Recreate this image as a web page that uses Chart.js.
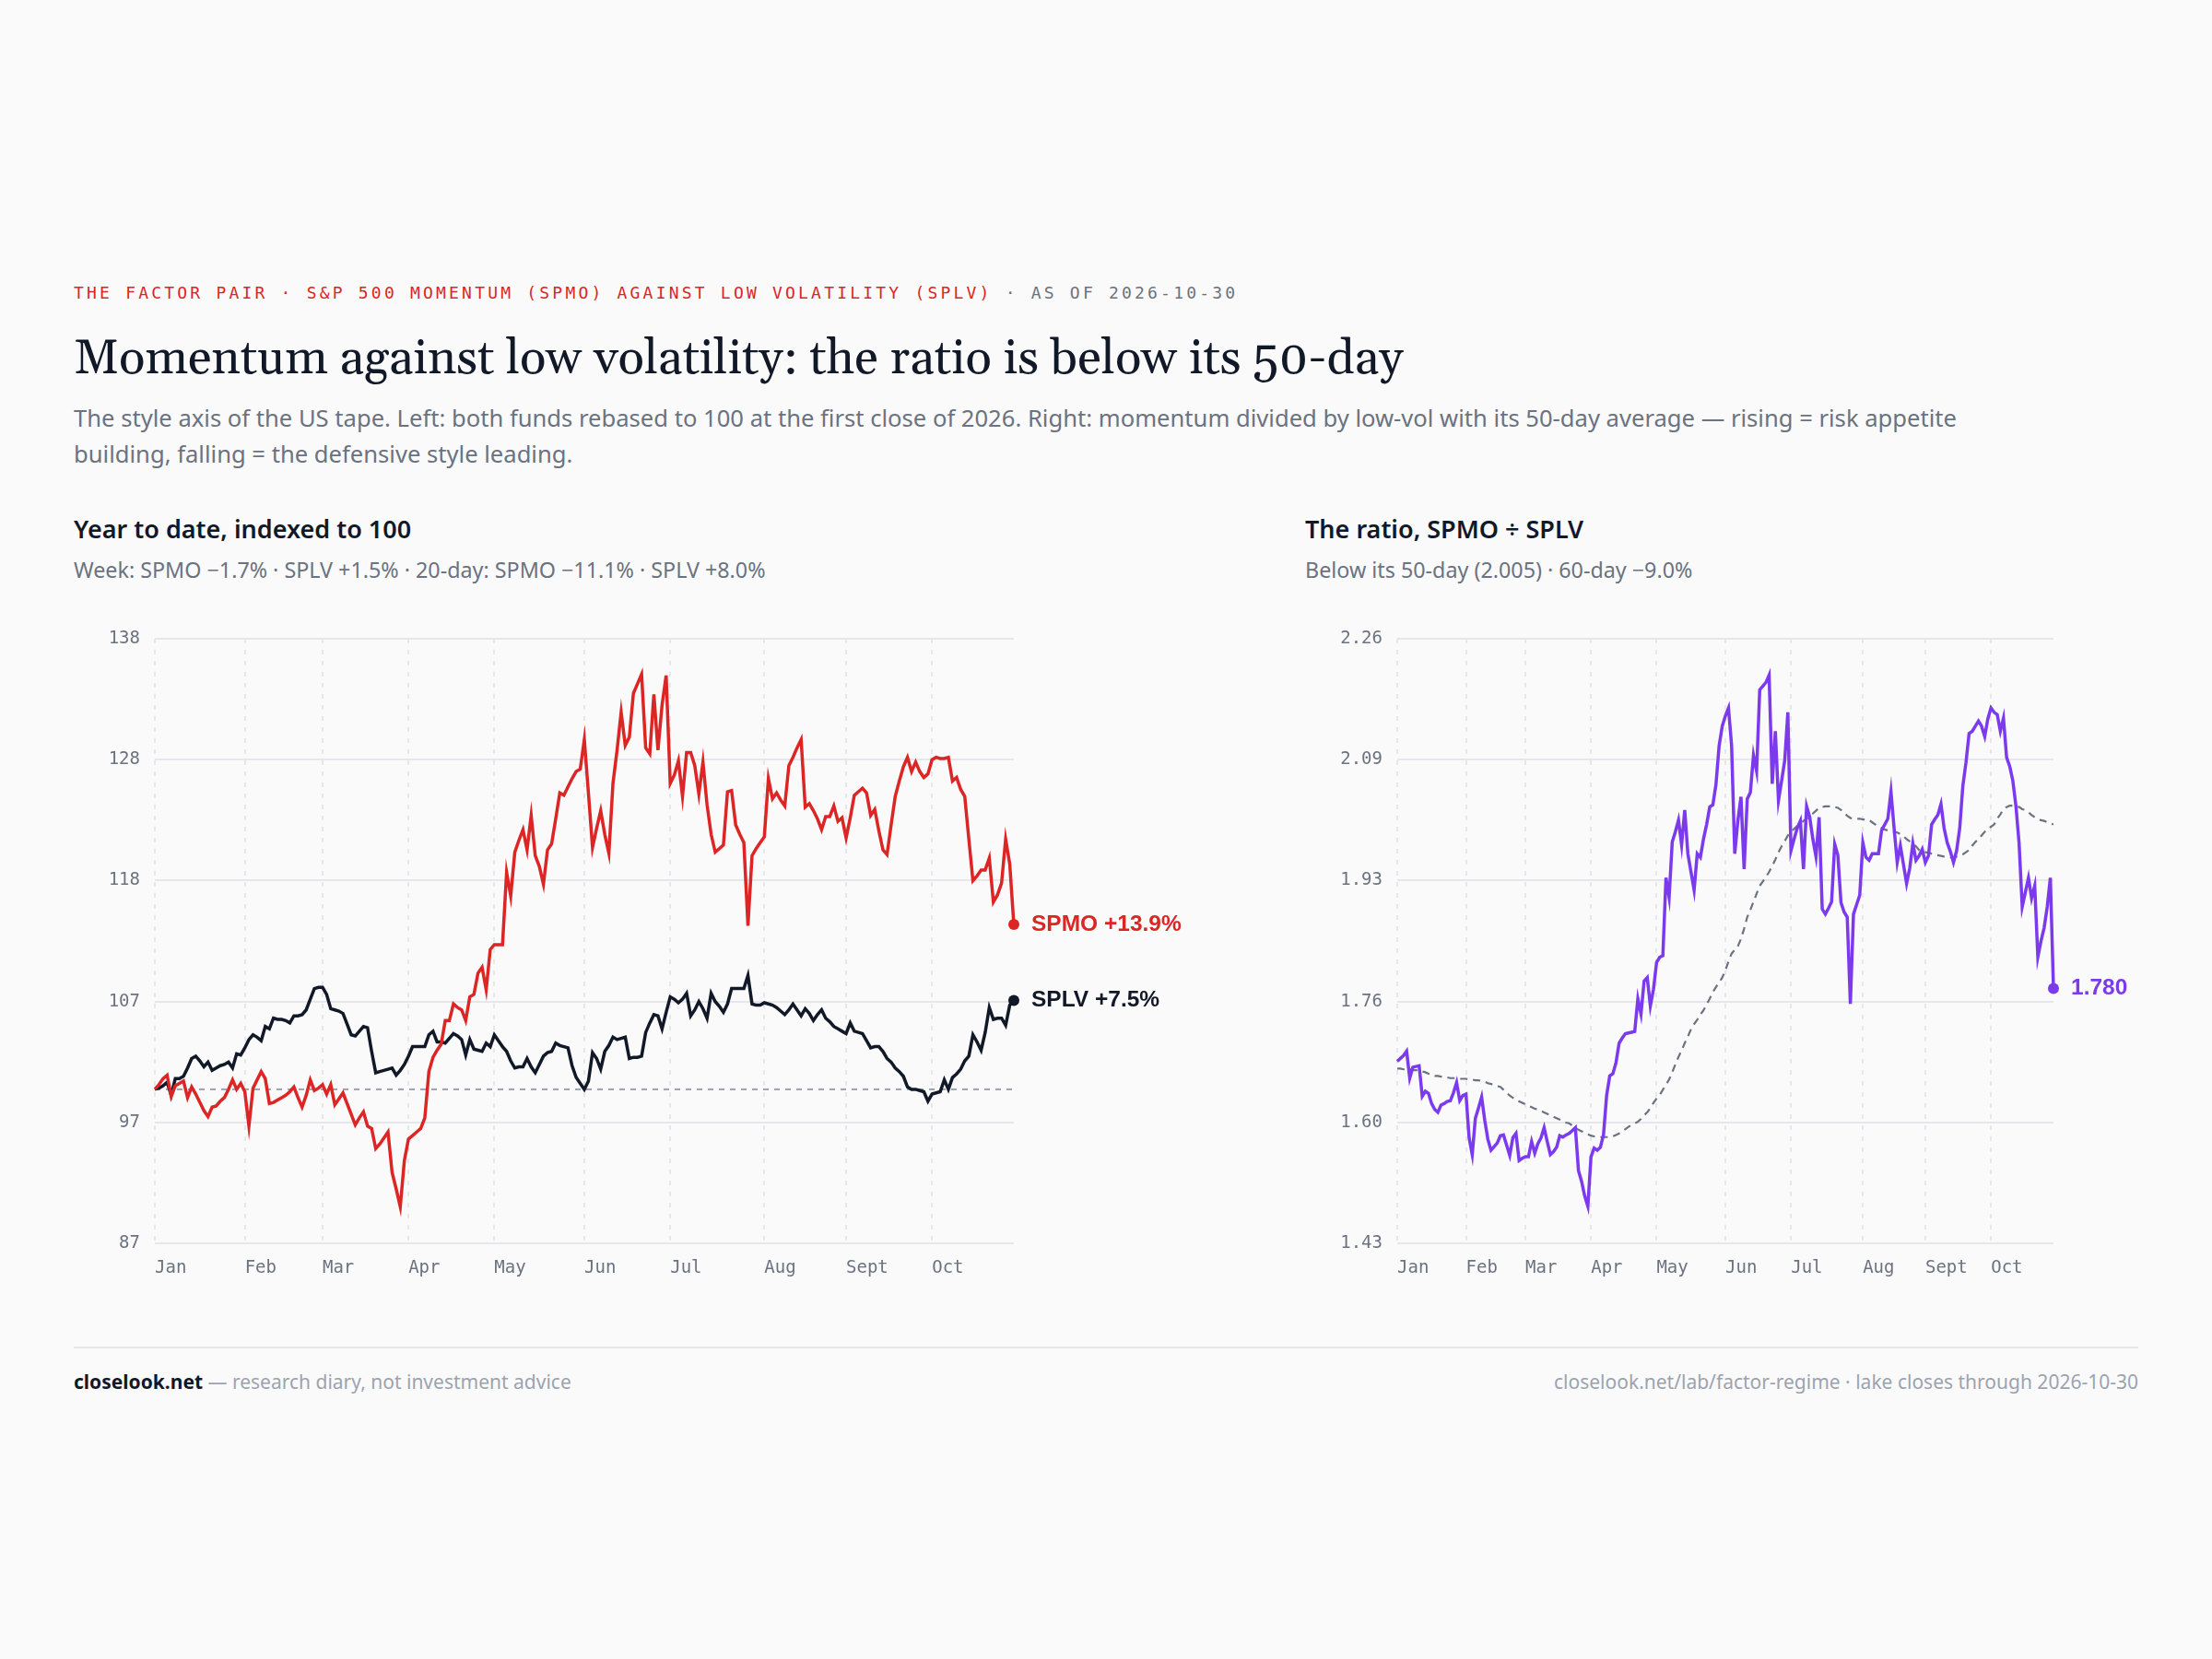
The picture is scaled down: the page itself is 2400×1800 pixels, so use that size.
<!DOCTYPE html>
<html>
<head>
<meta charset="utf-8">
<title>Momentum against low volatility</title>
<script src="https://cdn.jsdelivr.net/npm/chart.js@4.4.1/dist/chart.umd.min.js"></script>
<style>
  html, body { margin: 0; background: #fafafa; }
  body { width: 2400px; height: 1800px; position: relative; font-family: "Noto Sans", "Open Sans", sans-serif; }
  .abs { position: absolute; white-space: nowrap; }
  #kicker { left: 80px; top: 306px; font: 18px/24px "DejaVu Sans Mono", monospace; letter-spacing: 3.2px; color: #dc2626; }
  #kicker span { color: #6b7280; }
  h1 { left: 80px; top: 360px; margin: 0; font: 400 52.8px/60px Georgia, Gelasio, "Liberation Serif", serif; color: #111827; }
  #lede { left: 80px; top: 434px; width: 2110px; margin: 0; font-size: 25.6px; line-height: 39px; color: #6b7280; white-space: normal; }
  .ptitle { top: 556px; font-size: 27px; line-height: 36px; font-weight: 600; color: #111827; }
  .psub { top: 604px; font-size: 23.3px; line-height: 28px; color: #6b7280; }
  canvas { position: absolute; top: 660px; }
  #rule { left: 80px; top: 1461px; width: 2240px; height: 2px; background: #e5e7eb; }
  .foot { top: 1485px; font-size: 21px; line-height: 28px; color: #9ca3af; }
  .foot b { color: #111827; font-weight: 700; }
</style>
</head>
<body>
<div id="kicker" class="abs">THE FACTOR PAIR · S&amp;P 500 MOMENTUM (SPMO) AGAINST LOW VOLATILITY (SPLV) <span>· AS OF 2026-10-30</span></div>
<h1 class="abs">Momentum against low volatility: the ratio is below its 50-day</h1>
<p id="lede" class="abs">The style axis of the US tape. Left: both funds rebased to 100 at the first close of 2026. Right: momentum divided by low-vol with its 50-day average — rising = risk appetite building, falling = the defensive style leading.</p>

<div class="abs ptitle" style="left:80px">Year to date, indexed to 100</div>
<div class="abs psub" style="left:80px">Week: SPMO −1.7% · SPLV +1.5% · 20-day: SPMO −11.1% · SPLV +8.0%</div>
<div class="abs ptitle" style="left:1416px">The ratio, SPMO ÷ SPLV</div>
<div class="abs psub" style="left:1416px">Below its 50-day (2.005) · 60-day −9.0%</div>

<canvas id="left_canvas" width="1216" height="757" style="left:80px"></canvas>
<canvas id="right_canvas" width="904" height="757" style="left:1416px"></canvas>

<div id="rule" class="abs"></div>
<div class="abs foot" style="left:80px"><b>closelook.net</b> — research diary, not investment advice</div>
<div class="abs foot" style="right:80px">closelook.net/lab/factor-regime · lake closes through 2026-10-30</div>

<script>
// month labels and the trading-day index where each month starts
var months = ['Jan', 'Feb', 'Mar', 'Apr', 'May', 'Jun', 'Jul', 'Aug', 'Sept', 'Oct'];
var monthStart = [0, 22, 41, 62, 83, 105, 126, 149, 169, 190];

// y tick values (six evenly spaced gridlines)
var leftTicks = [87, 97.2, 107.4, 117.6, 127.8, 138];
var rightTicks = [1.43, 1.596, 1.762, 1.928, 2.094, 2.26];

// daily closes, rebased to 100
var spmo = [
  100.0,100.4,100.9,101.2,99.4,100.3,100.5,100.7,99.3,100.2,
  99.6,98.9,98.2,97.7,98.5,98.6,99.0,99.3,100.0,100.8,
  100.0,100.5,99.8,96.9,100.1,100.8,101.5,100.9,98.8,98.9,
  99.1,99.3,99.5,99.8,100.2,99.3,98.5,99.5,100.8,99.9,
  100.1,100.4,99.6,100.4,98.7,99.2,99.7,98.8,97.9,97.0,
  97.6,98.1,96.9,96.7,95.0,95.4,95.9,96.4,93.0,91.6,
  90.1,94.0,95.8,96.1,96.4,96.7,97.6,101.5,102.7,103.3,
  103.8,105.8,105.8,107.2,106.9,106.7,105.8,107.8,108.0,109.8,
  110.3,108.4,111.8,112.2,112.2,112.2,118.3,116.3,120.0,121.0,
  121.9,120.2,123.1,119.7,118.8,117.3,120.2,120.7,122.8,125.0,
  124.8,125.5,126.2,126.8,127.0,129.5,125.0,120.4,122.0,123.5,
  121.5,119.9,125.8,128.6,131.8,129.0,129.7,133.4,134.2,135.0,
  128.8,128.3,133.3,128.6,132.4,134.9,125.8,126.5,127.7,124.7,
  128.4,128.4,127.3,124.9,127.6,124.0,121.5,120.0,120.3,120.6,
  125.1,125.2,122.3,121.5,120.8,113.8,119.7,120.3,120.8,121.3,
  126.2,124.5,125.0,124.4,123.9,127.3,128.0,128.8,129.5,123.8,
  124.1,123.5,122.8,121.9,123.0,123.0,123.9,122.6,122.9,121.2,
  122.9,124.8,125.1,125.4,125.0,123.1,123.6,121.8,120.2,119.8,
  122.3,124.7,126.0,127.2,128.0,126.8,127.6,126.8,126.3,126.6,
  127.8,128.0,127.9,127.9,128.0,126.0,126.3,125.3,124.7,121.1,
  117.6,118.0,118.5,118.5,119.5,115.8,116.4,117.4,121.1,119.0,
  113.9
];
var splv = [
  100.0,100.1,100.3,100.6,99.5,100.9,100.9,101.1,101.8,102.6,
  102.8,102.4,101.9,102.3,101.6,101.8,102.0,102.1,102.3,101.8,
  103.0,102.9,103.5,104.2,104.6,104.4,104.1,105.3,105.1,106.0,
  105.9,105.9,105.8,105.6,106.2,106.2,106.3,106.7,107.6,108.5,
  108.6,108.6,108.0,106.8,106.7,106.6,106.4,105.5,104.6,104.5,
  104.9,105.3,105.2,103.2,101.4,101.5,101.6,101.7,101.8,101.2,
  101.6,102.1,102.8,103.6,103.6,103.6,103.6,104.6,104.9,104.0,
  104.0,103.9,104.3,104.7,104.5,104.2,102.9,104.2,103.4,103.3,
  103.2,103.9,103.6,104.6,104.1,103.6,103.2,102.4,101.8,101.9,
  101.9,102.6,101.9,101.4,102.1,102.8,103.1,103.2,103.9,103.7,
  103.6,103.5,102.0,101.0,100.5,100.0,100.7,103.1,102.6,101.7,
  103.2,103.7,104.4,104.2,104.3,104.4,102.6,102.7,102.7,102.8,
  104.8,105.6,106.3,106.2,105.1,106.5,107.8,107.6,107.3,107.6,
  108.1,106.2,106.7,107.4,106.8,106.0,108.1,107.4,107.0,106.5,
  107.2,108.5,108.5,108.5,108.5,109.6,107.2,107.1,107.1,107.3,
  107.2,107.1,106.9,106.6,106.3,106.7,107.2,106.7,106.2,106.8,
  106.4,105.8,106.3,106.7,106.0,105.7,105.3,105.1,104.9,104.7,
  105.6,104.9,104.8,104.7,104.1,103.5,103.6,103.6,103.2,102.6,
  102.3,101.8,101.5,101.1,100.2,100.0,100.0,99.9,99.8,99.0,
  99.6,99.7,99.8,100.8,100.0,101.0,101.3,101.7,102.4,102.8,
  104.6,104.0,103.3,104.8,106.9,105.9,106.0,106.0,105.4,107.1,
  107.5
];

// SPMO / SPLV and its 50-day average
var ratio = [
  1.680,1.684,1.688,1.694,1.657,1.672,1.673,1.674,1.632,1.639,
  1.636,1.622,1.614,1.610,1.620,1.622,1.625,1.626,1.637,1.651,
  1.626,1.633,1.635,1.575,1.552,1.602,1.616,1.631,1.599,1.573,
  1.558,1.563,1.568,1.578,1.579,1.565,1.551,1.575,1.581,1.544,
  1.547,1.549,1.549,1.570,1.554,1.567,1.575,1.589,1.570,1.552,
  1.556,1.562,1.578,1.576,1.579,1.581,1.585,1.589,1.530,1.515,
  1.495,1.481,1.549,1.561,1.558,1.562,1.579,1.633,1.660,1.663,
  1.678,1.705,1.712,1.718,1.719,1.720,1.721,1.766,1.745,1.790,
  1.795,1.756,1.779,1.816,1.823,1.825,1.932,1.905,1.981,1.995,
  2.011,1.977,2.025,1.965,1.940,1.915,1.965,1.960,1.985,2.005,
  2.029,2.032,2.060,2.113,2.140,2.154,2.165,2.113,1.965,2.010,
  2.043,1.944,2.040,2.049,2.100,2.078,2.190,2.195,2.200,2.210,
  2.061,2.133,2.038,2.065,2.093,2.159,1.969,1.985,2.000,2.010,
  1.944,2.030,2.015,1.985,1.961,2.015,1.889,1.882,1.890,1.899,
  1.978,1.963,1.898,1.885,1.878,1.759,1.882,1.895,1.908,1.980,
  1.960,1.956,1.965,1.965,1.965,1.997,2.005,2.013,2.050,2.000,
  1.953,1.976,1.950,1.924,1.945,1.979,1.956,1.962,1.971,1.953,
  1.962,2.005,2.012,2.018,2.033,2.000,1.980,1.968,1.953,1.969,
  2.000,2.058,2.090,2.130,2.133,2.140,2.147,2.140,2.126,2.150,
  2.165,2.159,2.156,2.133,2.151,2.097,2.085,2.065,2.030,1.979,
  1.892,1.912,1.932,1.904,1.921,1.823,1.845,1.863,1.892,1.932,
  1.780
];
var ratio50 = [
  1.670,1.670,1.669,1.669,1.669,1.668,1.668,1.668,1.666,1.665,
  1.663,1.662,1.660,1.660,1.659,1.659,1.658,1.657,1.657,1.657,
  1.656,1.656,1.656,1.655,1.655,1.654,1.654,1.653,1.652,1.650,
  1.649,1.647,1.646,1.645,1.641,1.637,1.633,1.630,1.628,1.625,
  1.623,1.621,1.619,1.617,1.615,1.614,1.612,1.610,1.608,1.606,
  1.604,1.602,1.600,1.598,1.596,1.595,1.592,1.589,1.586,1.584,
  1.582,1.580,1.578,1.577,1.577,1.576,1.576,1.576,1.576,1.577,
  1.579,1.581,1.584,1.587,1.590,1.593,1.595,1.597,1.601,1.606,
  1.610,1.616,1.623,1.629,1.634,1.641,1.648,1.655,1.665,1.676,
  1.686,1.695,1.705,1.714,1.724,1.731,1.737,1.744,1.750,1.758,
  1.766,1.775,1.782,1.788,1.795,1.805,1.817,1.828,1.833,1.838,
  1.848,1.862,1.878,1.888,1.899,1.910,1.921,1.927,1.933,1.940,
  1.948,1.957,1.967,1.975,1.982,1.990,1.995,1.999,2.003,2.006,
  2.010,2.013,2.017,2.020,2.024,2.028,2.029,2.030,2.030,2.030,
  2.029,2.028,2.025,2.021,2.017,2.014,2.013,2.013,2.013,2.012,
  2.012,2.011,2.008,2.005,2.002,2.000,1.998,1.997,1.996,1.995,
  1.994,1.992,1.989,1.985,1.982,1.979,1.975,1.970,1.968,1.967,
  1.966,1.965,1.964,1.963,1.962,1.961,1.961,1.960,1.960,1.961,
  1.962,1.964,1.967,1.970,1.976,1.981,1.985,1.990,1.995,1.999,
  2.002,2.005,2.013,2.019,2.026,2.029,2.031,2.031,2.030,2.029,
  2.026,2.025,2.022,2.018,2.015,2.012,2.011,2.010,2.008,2.007,
  2.005
];

var red = '#dc2626';
var ink = '#111827';
var purple = '#7c3aed';
var grey = '#6b7280';
var gridColor = '#e5e7eb';
var monoFont = { family: '"DejaVu Sans Mono", monospace', size: 19 };

Chart.defaults.animation = false;
Chart.defaults.font.family = '"Noto Sans", sans-serif';

function points(arr) {
  return arr.map(function (v, i) { return { x: i, y: v }; });
}

function lastDot(ctx) {
  return ctx.dataIndex === ctx.dataset.data.length - 1 ? 6 : 0;
}

// dashed reference line at a given y value
var refLine = {
  id: 'refLine',
  beforeDatasetsDraw: function (chart, args, opts) {
    if (opts.value == null) return;
    var a = chart.chartArea;
    var py = chart.scales.y.getPixelForValue(opts.value);
    var ctx = chart.ctx;
    ctx.save();
    ctx.strokeStyle = '#9ca3af';
    ctx.lineWidth = 2;
    ctx.setLineDash([6, 6]);
    ctx.beginPath();
    ctx.moveTo(a.left, py);
    ctx.lineTo(a.right, py);
    ctx.stroke();
    ctx.restore();
  }
};

// text label next to the last point of a dataset
var endLabels = {
  id: 'endLabels',
  afterDatasetsDraw: function (chart) {
    var ctx = chart.ctx;
    chart.data.datasets.forEach(function (ds, i) {
      if (!ds.endLabel) return;
      var meta = chart.getDatasetMeta(i);
      var pt = meta.data[meta.data.length - 1];
      ctx.save();
      ctx.font = 'bold 24.5px "Liberation Sans", Arial, sans-serif';
      ctx.fillStyle = ds.borderColor;
      ctx.textBaseline = 'middle';
      ctx.fillText(ds.endLabel, pt.x + 19, pt.y);
      ctx.restore();
    });
  }
};

function xScale(last) {
  return {
    type: 'linear',
    min: 0,
    max: last,
    afterBuildTicks: function (s) { s.ticks = monthStart.map(function (v) { return { value: v }; }); },
    ticks: {
      callback: function (v, i) { return months[i]; },
      align: 'start',
      maxRotation: 0,
      autoSkip: false,
      padding: 15,
      color: grey,
      font: monoFont
    },
    grid: { color: gridColor, lineWidth: 2, drawTicks: false },
    border: { display: false, dash: [5, 7] }
  };
}

function yScale(ticks, digits, width) {
  return {
    min: ticks[0],
    max: ticks[ticks.length - 1],
    afterBuildTicks: function (s) { s.ticks = ticks.map(function (v) { return { value: v }; }); },
    afterFit: function (s) { s.width = width; },
    ticks: {
      callback: function (v) { return v.toFixed(digits); },
      padding: 16,
      color: grey,
      font: monoFont
    },
    grid: { color: gridColor, lineWidth: 2, drawTicks: false },
    border: { display: false }
  };
}

var last = spmo.length - 1;

new Chart(document.getElementById('left_canvas'), {
  type: 'line',
  data: {
    datasets: [{
      label: 'SPMO',
      endLabel: 'SPMO +13.9%',
      data: points(spmo),
      borderColor: red,
      backgroundColor: red,
      borderWidth: 3.5,
      pointRadius: lastDot,
      pointBorderWidth: 0,
      clip: false,
      tension: 0
    }, {
      label: 'SPLV',
      endLabel: 'SPLV +7.5%',
      data: points(splv),
      borderColor: ink,
      backgroundColor: ink,
      borderWidth: 3.5,
      pointRadius: lastDot,
      pointBorderWidth: 0,
      clip: false,
      tension: 0
    }]
  },
  options: {
    responsive: false,
    devicePixelRatio: 1,
    layout: { padding: { top: 33, right: 196, bottom: 15, left: 0 } },
    scales: { x: xScale(last), y: yScale(leftTicks, 0, 88) },
    plugins: {
      legend: { display: false },
      tooltip: { enabled: false },
      refLine: { value: 100 }
    }
  },
  plugins: [refLine, endLabels]
});

new Chart(document.getElementById('right_canvas'), {
  type: 'line',
  data: {
    datasets: [{
      label: 'SPMO ÷ SPLV',
      endLabel: ratio[last].toFixed(3),
      data: points(ratio),
      borderColor: purple,
      backgroundColor: purple,
      borderWidth: 3.5,
      pointRadius: lastDot,
      pointBorderWidth: 0,
      clip: false,
      tension: 0
    }, {
      label: '50-day',
      data: points(ratio50),
      borderColor: grey,
      borderWidth: 2.2,
      borderDash: [8, 6],
      pointRadius: 0,
      tension: 0
    }]
  },
  options: {
    responsive: false,
    devicePixelRatio: 1,
    layout: { padding: { top: 33, right: 92, bottom: 15, left: 0 } },
    scales: { x: xScale(last), y: yScale(rightTicks, 2, 100) },
    plugins: {
      legend: { display: false },
      tooltip: { enabled: false }
    }
  },
  plugins: [endLabels]
});
</script>
</body>
</html>
